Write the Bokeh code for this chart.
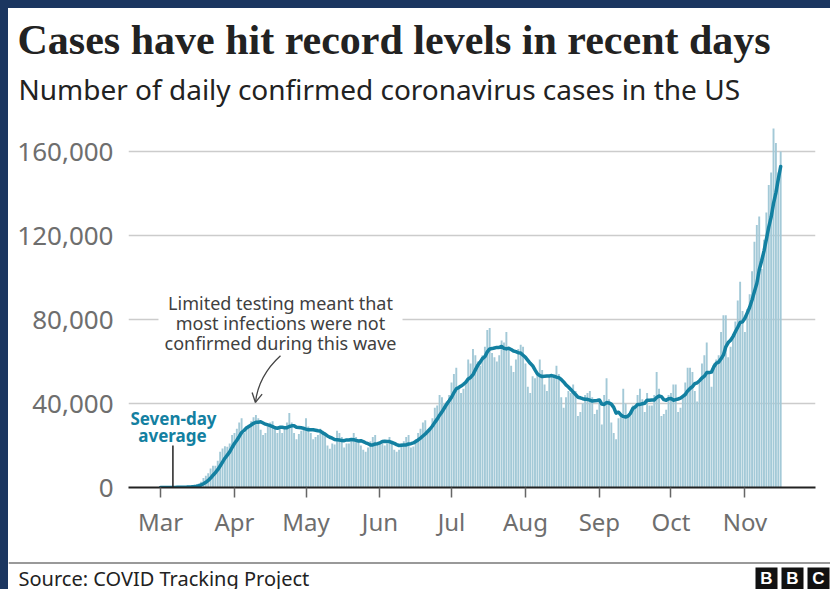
import pandas as pd
from bokeh.plotting import figure
from bokeh.models import (Range1d, FixedTicker, DatetimeTickFormatter, Label,
                          BoxAnnotation, ColumnDataSource, NumeralTickFormatter)
from bokeh.embed import file_html
from bokeh.resources import INLINE

# ---------------- data ----------------
START_DATE = "2020-03-01"

mar_cases = [8, 14, 22, 33, 60, 75, 110, 120, 180, 220, 290, 400, 600, 700, 900,
             1200, 1800, 2700, 4500, 5600, 6800, 9000, 10400, 10300, 12700, 17000,
             18600, 19700, 19400, 21000, 25000]
apr_cases = [26000, 28000, 31000, 33000, 26000, 29000, 30000, 31500, 33500, 34500,
             33000, 27500, 25000, 26000, 29000, 31000, 31500, 29000, 26000, 28000,
             26000, 28000, 31000, 35500, 31000, 26000, 23000, 25500, 27000, 29000]
may_cases = [33000, 29000, 26000, 23000, 24000, 25000, 28000, 27000, 25000, 20000,
             18500, 21000, 20500, 27000, 26000, 24000, 19000, 21000, 21000, 22000,
             26000, 24000, 22000, 20000, 18000, 17000, 19000, 22000, 24000, 25000, 21000]
jun_cases = [21000, 21000, 20000, 21000, 24000, 22000, 18000, 17000, 18000, 21000,
             22000, 24000, 25000, 19000, 19500, 23000, 26000, 28000, 31000, 32000,
             27000, 28000, 33000, 38000, 39000, 44000, 43000, 40000, 41000, 44000]
jul_cases = [50000, 54000, 57000, 47000, 45000, 47000, 51000, 61000, 59000, 66000,
             63000, 60000, 58000, 63000, 67000, 75000, 76000, 64000, 62000, 60000,
             63000, 70000, 69000, 74000, 66000, 58000, 55000, 61000, 66000, 68000, 67000]
aug_cases = [59000, 48000, 45000, 53000, 52000, 55000, 61000, 56000, 49000, 46000,
             53000, 53000, 53000, 58000, 54000, 43000, 38000, 43000, 46000, 45000,
             49000, 46000, 34000, 36000, 40000, 44000, 45000, 46000, 43000, 35000, 37000]
sep_cases = [42000, 30000, 44000, 52000, 42000, 31000, 26000, 23000, 33000, 35000,
             47000, 40000, 34000, 35000, 39000, 38000, 44000, 47000, 42000, 36000,
             45000, 39000, 39000, 44000, 55000, 47000, 34000, 35000, 37000, 44000]
oct_cases = [45000, 49000, 49000, 36000, 38000, 43000, 50000, 57000, 57000, 55000,
             46000, 41000, 50000, 59000, 63000, 69000, 55000, 48000, 59000, 61000,
             63000, 74000, 82000, 82000, 62000, 67000, 73000, 79000, 89000, 98000, 84000]
nov_cases = [74000, 85000, 92000, 103000, 117000, 125000, 129000, 104000, 118000,
             131000, 144000, 150000, 171000, 164000, 150000, 160000]

month_starts = ["2020-03-01", "2020-04-01", "2020-05-01", "2020-06-01", "2020-07-01",
                "2020-08-01", "2020-09-01", "2020-10-01", "2020-11-01"]
y_ticks = [0, 40000, 80000, 120000, 160000]

TITLE = "Cases have hit record levels in recent days"
SUBTITLE = "Number of daily confirmed coronavirus cases in the US"
SOURCE = "Source: COVID Tracking Project"
NOTE_LINES = ["Limited testing meant that", "most infections were not",
              "confirmed during this wave"]
AVG_LABEL = ["Seven-day", "average"]
LOGO = ["B", "B", "C"]

# ---------------- derived table ----------------
cases = (mar_cases + apr_cases + may_cases + jun_cases + jul_cases + aug_cases
         + sep_cases + oct_cases + nov_cases)
dates = pd.date_range(START_DATE, periods=len(cases), freq="D")
avg7 = pd.Series(cases, dtype=float).rolling(7, min_periods=1).mean()
src = ColumnDataSource(dict(date=dates, cases=cases, avg=avg7.values))

DAY_MS = 86400000
t0 = pd.Timestamp(START_DATE)
W = 822


def plain_panel(height):
    f = figure(width=W, height=height, x_range=Range1d(0, W),
               y_range=Range1d(height, 0), x_axis_type=None, y_axis_type=None,
               output_backend="svg", toolbar_location=None, title=None,
               min_border=0, min_border_left=0, min_border_right=0,
               min_border_top=0, min_border_bottom=0)
    f.outline_line_color = None
    f.background_fill_color = "white"
    f.border_fill_color = "white"
    f.xgrid.visible = False
    f.ygrid.visible = False
    return f


# ---------------- header ----------------
HEAD_H = 101
head = plain_panel(HEAD_H)
head.add_layout(Label(x=9, y=31, text=TITLE, text_font="Liberation Serif",
                      text_font_style="bold", text_font_size="42px",
                      text_color="#222222", text_baseline="alphabetic"))
head.add_layout(Label(x=10, y=80, text=SUBTITLE, text_font="Noto Sans",
                      text_font_size="28px", text_color="#222222",
                      text_baseline="alphabetic"))

# ---------------- main chart ----------------
p = figure(width=W, height=444, x_axis_type="datetime",
           x_range=Range1d(t0 - pd.Timedelta(days=13.42), t0 + pd.Timedelta(days=274.6)),
           y_range=Range1d(0, 180000), title=None,
           output_backend="svg", toolbar_location=None,
           min_border_left=120, min_border_right=15,
           min_border_top=0, min_border_bottom=66)
p.outline_line_color = None
p.background_fill_color = "white"
p.border_fill_color = "white"

p.xgrid.grid_line_color = None
p.ygrid.ticker = FixedTicker(ticks=y_ticks[1:])
p.ygrid.grid_line_color = "#cccccc"
p.ygrid.grid_line_width = 1.5

# white patch behind the note (interrupts the gridline)
p.add_layout(BoxAnnotation(left=30, right=274, bottom=135, top=197,
                           left_units="screen", right_units="screen",
                           bottom_units="screen", top_units="screen",
                           fill_color="white", fill_alpha=1.0, line_color=None,
                           level="underlay"))

p.vbar(x="date", top="cases", width=0.8 * DAY_MS, source=src,
       fill_color="#a3c9d7", line_color=None)
p.line(x="date", y="avg", source=src, line_color="#1380A1", line_width=3.5,
       line_join="round", line_cap="round")

p.yaxis.ticker = FixedTicker(ticks=y_ticks)
p.yaxis.formatter = NumeralTickFormatter(format="0,0")
p.yaxis.axis_line_color = None
p.yaxis.major_tick_line_color = None
p.yaxis.minor_tick_line_color = None
p.yaxis.major_tick_out = 0
p.yaxis.major_tick_in = 0
p.yaxis.major_label_standoff = 15
p.yaxis.major_label_text_font = "Noto Sans"
p.yaxis.major_label_text_font_size = "26px"
p.yaxis.major_label_text_color = "#6e6e6e"

p.xaxis.ticker = FixedTicker(ticks=[pd.Timestamp(m).value / 1e6 for m in month_starts])
p.xaxis.formatter = DatetimeTickFormatter(days="%b", months="%b", years="%b",
                                          hours="%b", minutes="%b", seconds="%b",
                                          milliseconds="%b", microseconds="%b",
                                          minsec="%b", hourmin="%b")
p.xaxis.axis_line_color = "#222222"
p.xaxis.axis_line_width = 2
p.xaxis.major_tick_line_color = "#666666"
p.xaxis.major_tick_line_width = 1.5
p.xaxis.major_tick_in = 0
p.xaxis.major_tick_out = 10
p.xaxis.minor_tick_line_color = None
p.xaxis.major_label_standoff = 7
p.xaxis.major_label_text_font = "Noto Sans"
p.xaxis.major_label_text_font_size = "24px"
p.xaxis.major_label_text_color = "#6e6e6e"


def D(days):
    return t0 + pd.Timedelta(days=days)


# note arrow
p.quadratic(x0=[D(50.3)], y0=[62700], x1=[D(39.8)], y1=[40500],
            cx=[D(41.1)], cy=[53200], line_color="#444444", line_width=1.3)
p.segment(x0=[D(39.8), D(39.8)], y0=[40500, 40500], x1=[D(38.4), D(42.6)],
          y1=[45200, 44500], line_color="#444444", line_width=1.3)

# seven-day marker line
p.segment(x0=[D(5.2)], y0=[0], x1=[D(5.2)], y1=[20000], line_color="#222222",
          line_width=1.5)


def lab(x, y, text, **kw):
    base = dict(x=x, y=y, x_units="screen", y_units="screen", text=text,
                text_baseline="alphabetic", text_font="Noto Sans")
    base.update(kw)
    p.add_layout(Label(**base))


for t, yy in zip(NOTE_LINES, [185, 165, 145]):
    lab(152, yy, t, text_align="center", text_font_size="18px", text_color="#404040")

lab(45, 69, AVG_LABEL[0], text_align="center", text_font_size="17px",
    text_font_style="bold", text_color="#1380A1")
lab(44, 52, AVG_LABEL[1], text_align="center", text_font_size="17px",
    text_font_style="bold", text_color="#1380A1")

# ---------------- footer ----------------
FOOT_H = 36
foot = plain_panel(FOOT_H)
foot.segment(x0=[0], y0=[9.5], x1=[W], y1=[9.5], line_color="#999999", line_width=2)
foot.add_layout(Label(x=10, y=24.5, text=SOURCE, text_font="Noto Sans",
                      text_font_size="20px", text_color="#222222",
                      text_baseline="alphabetic"))
for i, letter in enumerate(LOGO):
    left = 747 + i * 26
    foot.quad(left=[left], right=[left + 22], top=[14], bottom=[FOOT_H + 2],
              fill_color="#111111", line_color=None)
    foot.add_layout(Label(x=left + 11, y=25, text=letter, text_align="center",
                          text_font="Liberation Sans", text_font_style="bold",
                          text_font_size="17px", text_color="white",
                          text_baseline="alphabetic"))

TEMPLATE = """
{% block postamble %}
<style>
html { background: #1b3660 !important; overflow: hidden !important; }
body { background: #ffffff !important; margin: 8px 0 0 8px !important;
       padding: 0 !important; overflow: hidden !important;
       height: calc(100% - 8px) !important;
       display: flex !important; flex-direction: column !important;
       align-items: flex-start !important; }
</style>
{% endblock %}
"""

html = file_html([head, p, foot], INLINE, title="Cases have hit record levels",
                 template=TEMPLATE)
open("out.html", "w").write(html)
